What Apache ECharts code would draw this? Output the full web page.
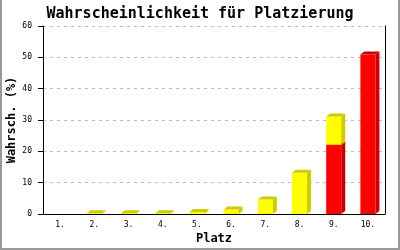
<!DOCTYPE html>
<html><head><meta charset="utf-8">
<script src="https://cdn.jsdelivr.net/npm/echarts@6/dist/echarts.min.js"></script>
<style>html,body{margin:0;padding:0;background:#fff}
#frame{position:absolute;left:0;top:0;width:400px;height:250px;box-sizing:border-box;border:2px solid #999;border-top:none}
#c{position:absolute;left:0;top:0;width:400px;height:250px}</style>
</head><body><div id="c"></div><div id="frame"></div>
<script>
const categories = ['1.','2.','3.','4.','5.','6.','7.','8.','9.','10.'];
const redValues = [0,0,0,0,0,0,0,0,22.1,50.9];
const yellowValues = [0,0.2,0.2,0.2,0.6,1.4,4.6,13.2,9.0,0];
const yTicks = [0,10,20,30,40,50,60];

const redData = redValues.map((v,i)=>[i,0,v]);
const yellowData = yellowValues.map((v,i)=>[i,redValues[i],redValues[i]+v]);

function makeRender(front, dark){
  return function(params, api){
    const idx = api.value(0), base = api.value(1), top = api.value(2);
    if (top - base <= 0) return null;
    const p0 = api.coord([idx, base]);
    const p1 = api.coord([idx, top]);
    const w = api.size([1,0])[0]*0.44;
    const d = 4, dy = 3;
    const x = p0[0]-w/2;
    return {type:'group', children:[
      {type:'rect', shape:{x:x, y:p1[1], width:w, height:p0[1]-p1[1]}, style:{fill:front}},
      {type:'polygon', shape:{points:[[x+w,p1[1]],[x+w+d,p1[1]-dy],[x+w+d,p0[1]-dy],[x+w,p0[1]]]}, style:{fill:dark}},
      {type:'polygon', shape:{points:[[x,p1[1]],[x+d,p1[1]-dy],[x+w+d,p1[1]-dy],[x+w,p1[1]]]}, style:{fill:dark}}
    ]};
  };
}

const chart = echarts.init(document.getElementById('c'), null, {renderer:'canvas'});
chart.setOption({
  animation:false,
  backgroundColor:'#fff',
  title:{text:'Wahrscheinlichkeit für Platzierung', left:'center', top:2,
    textStyle:{fontFamily:'DejaVu Sans Mono', fontWeight:'bold', fontSize:15, color:'#000'}},
  grid:{left:43, right:15, top:26, bottom:36, containLabel:false, outerBoundsMode:'none'},
  xAxis:{type:'category', data:categories, name:'Platz', nameLocation:'middle', nameGap:19, nameMoveOverlap:false,
    nameTextStyle:{fontFamily:'DejaVu Sans Mono', fontWeight:'bold', fontSize:12, color:'#000'},
    axisLine:{lineStyle:{color:'#000', width:1}}, axisTick:{show:false},
    axisLabel:{fontFamily:'DejaVu Sans Mono', fontSize:8, color:'#000', margin:7}},
  yAxis:[{type:'value', min:0, max:60, interval:10, name:'Wahrsch. (%)', nameLocation:'middle', nameGap:25, nameMoveOverlap:false,
    nameTextStyle:{fontFamily:'DejaVu Sans Mono', fontWeight:'bold', fontSize:12, color:'#000'},
    axisLine:{show:true, lineStyle:{color:'#000'}}, axisTick:{show:true, length:5, lineStyle:{color:'#000'}},
    axisLabel:{fontFamily:'DejaVu Sans Mono', fontSize:8, color:'#000', margin:11,
      formatter:v=>yTicks.indexOf(v)>=0?String(v):''},
    splitLine:{lineStyle:{color:'#bbb', type:[3,4]}}},
   {type:'value', min:0, max:60, interval:10, position:'right',
    axisLine:{show:true, lineStyle:{color:'#000'}}, axisTick:{show:false}, axisLabel:{show:false}, splitLine:{show:false}}],
  series:[
    {type:'custom', renderItem:makeRender('#ff0000','#cc0000'), data:redData, encode:{x:0,y:2}},
    {type:'custom', renderItem:makeRender('#ffff00','#cccc00'), data:yellowData, encode:{x:0,y:2}}
  ]
});
</script></body></html>
